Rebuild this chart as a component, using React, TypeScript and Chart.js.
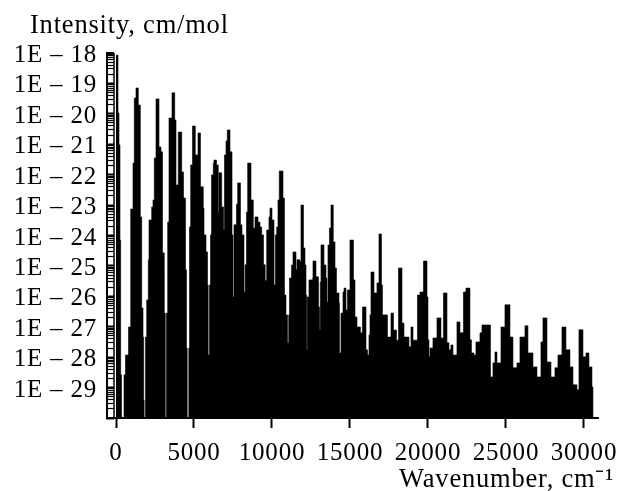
import React, { useEffect, useRef } from "react";
import { Chart, registerables } from "chart.js";

Chart.register(...registerables);

// Upper outline of the spectrum
const wavenumbers = [
  0, 128, 192, 256, 300, 353, 513, 609, 801, 942, 1090, 1173, 1282, 1429, 1558, 1647, 1731, 1775, 1807, 1891,
  1968, 2070, 2115, 2288, 2372, 2455, 2564, 2756, 2884, 2981, 3096, 3160, 3237, 3314, 3397, 3590, 3763, 3846, 3994, 4212,
  4327, 4455, 4519, 4564, 4667, 4711, 4788, 4904, 5083, 5256, 5416, 5595, 5641, 5769, 5865, 5910, 5994, 6058, 6122, 6237,
  6282, 6442, 6557, 6602, 6775, 6891, 6955, 7051, 7134, 7307, 7436, 7500, 7564, 7724, 7800, 7980, 8076, 8205, 8276, 8365,
  8442, 8654, 8801, 8910, 9102, 9230, 9339, 9455, 9564, 9660, 9807, 9871, 9999, 10128, 10211, 10301, 10384, 10467, 10705, 10801,
  10897, 10993, 11070, 11121, 11250, 11346, 11538, 11602, 11794, 11858, 12019, 12115, 12179, 12224, 12262, 12371, 12609, 12628, 12820, 12981,
  13045, 13096, 13141, 13333, 13461, 13525, 13589, 13685, 13782, 13929, 14038, 14135, 14295, 14327, 14423, 14551, 14615, 14743, 14839, 15000,
  15224, 15320, 15448, 15672, 15800, 16025, 16121, 16217, 16281, 16346, 16538, 16730, 16858, 17018, 17082, 17403, 17628, 17788, 17980, 18109,
  18333, 18461, 18781, 18910, 19038, 19326, 19486, 19711, 19936, 20000, 20064, 20128, 20320, 20576, 20833, 20993, 21217, 21345, 21473, 21602,
  21858, 22050, 22275, 22435, 22691, 22787, 22948, 23076, 23332, 23461, 24006, 24166, 24294, 24422, 24679, 24935, 25255, 25448, 25704, 25896,
  26217, 26409, 26730, 26986, 27243, 27371, 27627, 27884, 28140, 28332, 28589, 28845, 29101, 29294, 29551, 29679, 29935, 30128, 30320, 30512,
  30576,
];
const logIntensity = [
  -18.07, -19.97, -21.02, -24.15, -28.58, -30, -28.58, -27.93, -27.01, -23.13, -21.62, -19.48, -19.15, -19.71, -23.39, -26.38, -27.34, -29.41, -30, -27.34,
  -26.12, -24.8, -23.49, -23.06, -22.83, -21.45, -19.51, -21.09, -21.25, -24.57, -26.55, -30, -26.55, -23.56, -20.14, -19.31, -20.2, -22.34, -20.6, -21.91,
  -22.77, -25.13, -27.7, -30, -27.7, -23.72, -21.68, -20.4, -21.35, -20.63, -22.4, -23.1, -23.98, -24.54, -25.63, -27.93, -25.63, -23.98, -22.01, -21.62,
  -21.52, -21.68, -23.26, -21.94, -23.06, -23.82, -21.35, -20.89, -20.53, -21.25, -23.98, -26.02, -23.65, -22.97, -22.27, -23.65, -23.98, -25.86, -24.96, -23.23,
  -21.62, -22.83, -23.75, -23.39, -23.56, -23.72, -23.98, -24.96, -25.48, -23.82, -23.39, -23.1, -23.49, -25.63, -23.98, -23.72, -22.83, -21.88, -22.77, -25.96,
  -26.61, -27.53, -26.61, -25.4, -24.97, -24.54, -25.13, -24.8, -24.87, -23.0, -24.41, -24.97, -25.96, -27.76, -26.02, -25.46, -25.4, -24.84, -25.36, -26.35,
  -27.1, -25.53, -24.31, -24.97, -25.4, -26.19, -24.31, -23.75, -23.0, -24.21, -25.07, -25.89, -26.22, -27.86, -26.55, -25.86, -25.73, -26.45, -25.79, -24.15,
  -25.46, -26.68, -27.01, -27.2, -26.35, -27.76, -27.93, -27.27, -26.61, -25.2, -25.89, -25.56, -23.95, -25.63, -26.61, -27.34, -26.55, -27.11, -27.44, -25.07,
  -26.88, -27.34, -27.66, -27.01, -27.44, -25.96, -25.86, -24.84, -26.02, -27.43, -27.99, -27.7, -27.37, -26.71, -27.37, -25.89, -27.53, -27.76, -27.6, -27.93,
  -26.84, -27.2, -25.86, -25.73, -27.43, -27.86, -27.93, -27.5, -27.2, -26.94, -28.65, -28.19, -27.83, -28.19, -27.01, -26.28, -27.34, -28.35, -28.19, -27.34,
  -26.97, -27.86, -28.32, -28.65, -27.5, -26.71, -28.16, -28.65, -28.35, -27.93, -27.01, -27.76, -28.32, -28.91, -29.07, -27.1, -27.99, -27.86, -28.32, -28.98,
  -30,
];

const xTickValues = [0, 5000, 10000, 15000, 20000, 25000, 30000];
const yDecades = [-30, -29, -28, -27, -26, -25, -24, -23, -22, -21, -20, -19, -18];
const yMinorMultiples = [2, 3, 4, 5, 6, 7, 8, 9];
const yTitle = "Intensity, cm/mol";
const xTitle = "Wavenumber, cm⁻¹";
const FONT = "'Liberation Serif'";

export default function App() {
  const ref = useRef<HTMLCanvasElement>(null);

  useEffect(() => {
    const points = wavenumbers.map((x, i) => ({ x, y: Math.pow(10, logIntensity[i]) }));
    const chart = new Chart(ref.current!, {
      type: "scatter",
      data: {
        datasets: [
          {
            data: points,
            showLine: true,
            stepped: "before",
            borderColor: "#000",
            borderWidth: 0.6,
            backgroundColor: "#000",
            pointRadius: 0,
            fill: "start",
          } as any,
          {
            // inner rail of the ladder-like y axis
            data: [
              { x: -128, y: 1e-30 },
              { x: -128, y: 1e-18 },
            ],
            showLine: true,
            borderColor: "#000",
            borderWidth: 1.5,
            pointRadius: 0,
            fill: false,
          } as any,
        ],
      },
      options: {
        animation: false,
        responsive: false,
        devicePixelRatio: 1,
        layout: { padding: { left: 0, right: 21, top: 53, bottom: 0 } },
        plugins: {
          legend: { display: false },
          tooltip: { enabled: false },
        },
        scales: {
          x: {
            type: "linear",
            min: -577,
            max: 30900,
            afterFit: (s: any) => {
              s.height = 73;
              s.paddingLeft = 0;
              s.paddingRight = 0;
            },
            afterBuildTicks: (s: any) => {
              s.ticks = xTickValues.map((value) => ({ value }));
            },
            border: { color: "#000", width: 2 },
            grid: { drawOnChartArea: false, tickLength: 10, tickWidth: 2, tickColor: "#000" },
            ticks: {
              color: "#000",
              font: { family: FONT, size: 25 },
              padding: 10,
              maxRotation: 0,
              autoSkip: false,
              callback: (v: any) => String(v),
            },
          },
          y: {
            type: "logarithmic",
            min: 1e-30,
            max: 1e-18,
            afterFit: (s: any) => {
              s.width = 107;
              s.paddingTop = 0;
              s.paddingBottom = 0;
            },
            afterBuildTicks: (s: any) => {
              const t: any[] = [];
              yDecades.forEach((d) => {
                t.push({ value: Math.pow(10, d), major: true, exp: d });
                if (d < -18) yMinorMultiples.forEach((m) => t.push({ value: m * Math.pow(10, d), major: false }));
              });
              s.ticks = t;
            },
            border: { color: "#000", width: 2 },
            grid: {
              drawOnChartArea: false,
              tickLength: -7,
              tickColor: "#000",
              tickWidth: (c: any) => (c.tick && c.tick.major ? (c.tick.exp === -18 ? 3 : 2) : 1.2),
            },
            ticks: {
              color: "#000",
              font: { family: FONT, size: 25, lineHeight: "5px" },
              padding: 17,
              autoSkip: false,
              maxRotation: 0,
              callback: (_v: any, i: number, ticks: any[]) => {
                const t = ticks[i];
                return t.major && t.exp > -30 ? ["", `1E – ${-t.exp}`] : "";
              },
            },
          },
        },
      },
      plugins: [
        {
          id: "captions",
          beforeDraw: (c: any) => {
            c.ctx.letterSpacing = "0.8px";
          },
          afterDraw: (c: any) => {
            const g = c.ctx;
            g.save();
            g.fillStyle = "#000";
            g.font = `26.5px ${FONT}`;
            g.textBaseline = "middle";
            g.textAlign = "left";
            g.fillText(yTitle, 30, 26);
            g.textAlign = "right";
            g.fillText(xTitle, 614, 480);
            g.restore();
          },
        },
      ],
    } as any);
    return () => chart.destroy();
  }, []);

  return (
    <div style={{ position: "absolute", left: 0, top: 0, width: 619, height: 491, background: "#fff" }}>
      <canvas ref={ref} width={619} height={491} style={{ display: "block" }} />
    </div>
  );
}
